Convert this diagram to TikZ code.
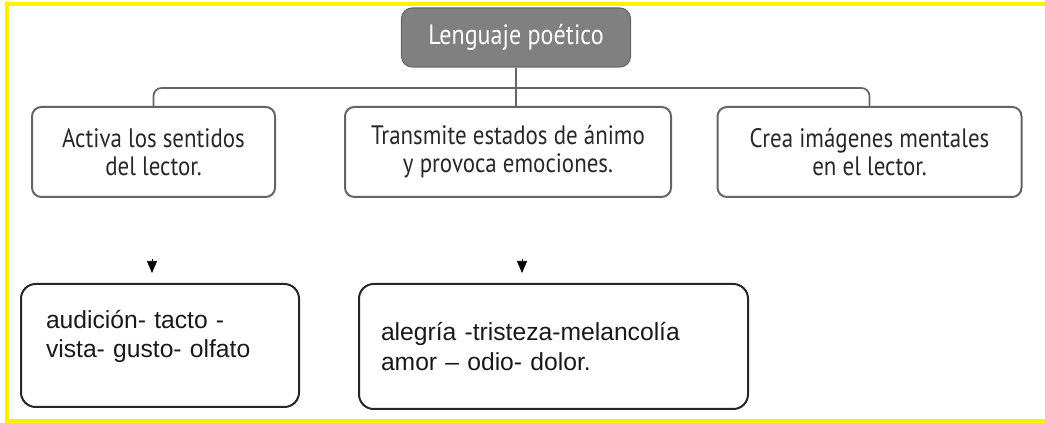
\documentclass[tikz,border=0pt]{standalone}
\usepackage{fontspec}
\setmainfont{PT Sans}[FakeStretch=0.86]
\newfontfamily\arialfont[Ligatures=TeX]{Liberation Sans}
\usetikzlibrary{arrows.meta,shapes,backgrounds}
\definecolor{frameyellow}{RGB}{255,240,0}
\definecolor{titlegray}{RGB}{128,128,128}
\definecolor{linegray}{RGB}{100,100,100}
\definecolor{textgray}{RGB}{40,40,40}

\begin{document}
\begin{tikzpicture}[x=0.75pt,y=-0.75pt,
  titlebox/.style={rectangle, draw=black!60, thick, fill=titlegray,
                   rounded corners=8pt, text=white, text centered,
                   minimum width=229*0.75pt, minimum height=59*0.75pt,
                   font=\fontsize{21}{24}\selectfont},
  ideabox/.style={rectangle, draw=linegray, line width=1.5pt, fill=white,
                  rounded corners=7pt, text=textgray, align=center,
                  minimum height=90*0.75pt, font=\fontsize{20}{21}\selectfont},
  examplebox/.style={rectangle, draw=black!85, line width=1.5pt,
                     rounded corners=11pt, align=left, anchor=north west,
                     font=\arialfont\fontsize{18.5}{22}\selectfont, text=black!90},
  link/.style={draw=linegray, line width=1.3pt, rounded corners=6pt},
  tip/.style={-{Triangle[width=7.5pt,length=9pt]}, black}]

\useasboundingbox (0,0) rectangle (1045,423);

% title and the three ideas
\node [titlebox] (titulo) at (516,37.5) {Lenguaje poético};
\node [ideabox, minimum width=243*0.75pt] (sentidos) at (153.5,152)
      {Activa los sentidos\\ del lector.};
\node [ideabox, minimum width=326*0.75pt] (animo) at (508,152)
      {Transmite estados de ánimo\\ y provoca emociones.};
\node [ideabox, minimum width=304*0.75pt] (mental) at (869.5,152)
      {Crea imágenes mentales\\ en el lector.};

\coordinate (junta) at (516,88);
\draw [link] (titulo.south) to (titulo.south |- animo.north);
\draw [link] (sentidos.north) |- (junta) -| (mental.north);

% examples
\coordinate (f1) at (152,259);
\coordinate (f2) at (522,259);
\draw [tip] (f1) to ++(0,14);
\draw [tip] (f2) to ++(0,14);

\node [examplebox, minimum width=278*0.75pt, minimum height=123*0.75pt,
       text width=228*0.75pt, inner xsep=25*0.75pt] (sens) at (20,283)
      {audición- tacto -\\vista- gusto- olfato\\[-5pt]\mbox{}};
\node [examplebox, minimum width=389*0.75pt, minimum height=125*0.75pt,
       text width=345*0.75pt, inner xsep=22*0.75pt] (emoc) at (358,283)
      {alegría -tristeza-melancolía\\amor – odio- dolor.};

 \begin{pgfonlayer}{background}
    \draw [line width=3pt, frameyellow]
      (1045,4.5) -- (6.5,4.5) -- (6.5,421) -- (1045,421);
  \end{pgfonlayer}

\end{tikzpicture}
\end{document}
